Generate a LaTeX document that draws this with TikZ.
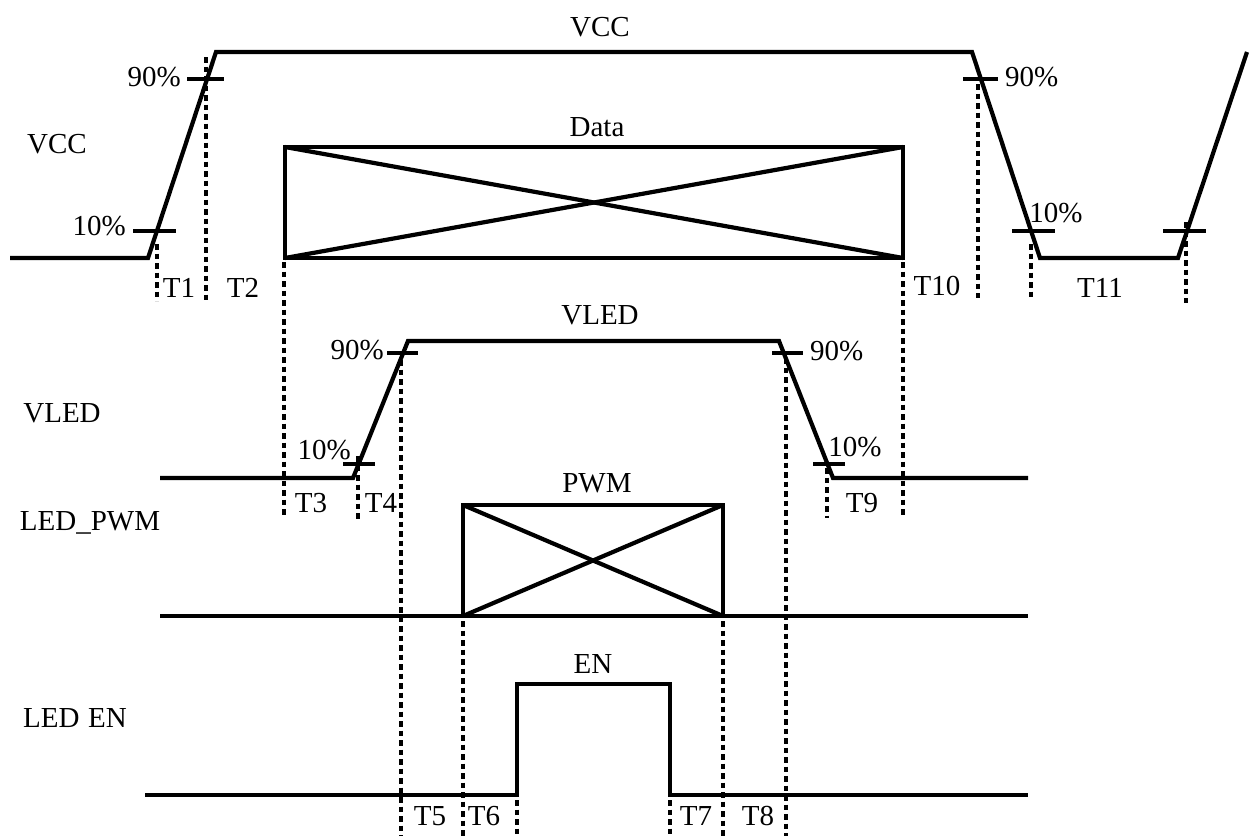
\documentclass[tikz,border=0pt]{standalone}
\usepackage{fontspec}
\setmainfont{Liberation Serif}
\begin{document}
\begin{tikzpicture}[x=1pt,y=-1pt,
  wave/.style={line width=4.2pt,line join=miter},
  tick/.style={line width=4pt},
  guide/.style={line width=3.8pt,dash pattern=on 5.5pt off 4pt},
  lbl/.style={inner sep=0pt,font=\fontsize{29}{30}\selectfont}]
\useasboundingbox (0,0) rectangle (1256,839);
% ---------- VCC row ----------
\draw[wave] (10,258) -- (148,258) -- (216,52) -- (972,52) -- (1040,258) -- (1178,258) -- (1247,52);
\draw[wave] (285,147) rectangle (903,258);
\draw[wave] (285,147) -- (903,258);
\draw[wave] (285,258) -- (903,147);
\draw[tick] (187,79) -- (224,79);
\draw[tick] (133,231) -- (176,231);
\draw[tick] (963,79) -- (998,79);
\draw[tick] (1012,231) -- (1055,231);
\draw[tick] (1163,231) -- (1206,231);
% ---------- VLED row ----------
\draw[wave] (160,478) -- (353,478) -- (408,341) -- (779,341) -- (833,478) -- (1028,478);
\draw[tick] (387,353) -- (418,353);
\draw[tick] (343,464) -- (375,464);
\draw[tick] (772,353) -- (803,353);
\draw[tick] (813,464) -- (845,464);
% ---------- LED_PWM row ----------
\draw[wave] (160,616) -- (1028,616);
\draw[wave] (463,505) rectangle (723,616);
\draw[wave] (463,505) -- (723,616);
\draw[wave] (463,616) -- (723,505);
% ---------- LED EN row ----------
\draw[wave] (145,795) -- (517,795) -- (517,684) -- (670,684) -- (670,795) -- (1028,795);
% ---------- dotted guides ----------
\coordinate (g1a) at (157,244); \coordinate (g1b) at (157,301);
\coordinate (g2a) at (206,57);  \coordinate (g2b) at (206,302);
\coordinate (g3a) at (284,262); \coordinate (g3b) at (284,518);
\coordinate (g4a) at (903,262); \coordinate (g4b) at (903,518);
\coordinate (g5a) at (978,84);  \coordinate (g5b) at (978,298);
\coordinate (g6a) at (1031,244); \coordinate (g6b) at (1031,300);
\coordinate (g7a) at (1186,222); \coordinate (g7b) at (1186,303);
\coordinate (g8a) at (358,456); \coordinate (g8b) at (358,520);
\coordinate (g9a) at (401,360); \coordinate (g9b) at (401,836);
\coordinate (g10a) at (786,358); \coordinate (g10b) at (786,836);
\coordinate (g11a) at (827,468); \coordinate (g11b) at (827,518);
\coordinate (g12a) at (463,621); \coordinate (g12b) at (463,836);
\coordinate (g13a) at (723,621); \coordinate (g13b) at (723,836);
\coordinate (g14a) at (517,800); \coordinate (g14b) at (517,836);
\coordinate (g15a) at (670,800); \coordinate (g15b) at (670,836);
\foreach \g in {1,...,15} \draw[guide] (g\g a) -- (g\g b);
% ---------- labels ----------
\node[lbl] (vcctop) at (600,27) {VCC};
\node[lbl] (vccleft) at (57,144) {VCC};
\node[lbl,anchor=east] (p90a) at (181,77) {90\%};
\node[lbl,anchor=east] (p10a) at (126,226) {10\%};
\node[lbl] (t1) at (179,288) {T1};
\node[lbl] (t2) at (243,288) {T2};
\node[lbl] (data) at (597,127) {Data};
\node[lbl,anchor=west] (p90b) at (1005,77) {90\%};
\node[lbl] (p10b) at (1056,213) {10\%};
\node[lbl] (t10) at (937,286) {T10};
\node[lbl] (t11) at (1100,288) {T11};
\node[lbl] (vledtop) at (600,315) {VLED};
\node[lbl] (vledleft) at (62,413) {VLED};
\node[lbl,anchor=east] (p90c) at (384,350) {90\%};
\node[lbl,anchor=east] (p10c) at (351,450) {10\%};
\node[lbl] (t3) at (311,503) {T3};
\node[lbl] (t4) at (381,503) {T4};
\node[lbl,anchor=west] (p90d) at (810,351) {90\%};
\node[lbl] (p10d) at (855,447) {10\%};
\node[lbl] (t9) at (862,503) {T9};
\node[lbl] (pwm) at (597,483) {PWM};
\node[lbl] (ledpwm) at (90,523) {LED\_PWM};
\node[lbl] (en) at (593,664) {EN};
\node[lbl] (leden) at (75,718) {LED\hspace{0.3em}EN};
\node[lbl] (t5) at (430,816) {T5};
\node[lbl] (t6) at (484,816) {T6};
\node[lbl] (t7) at (696,816) {T7};
\node[lbl] (t8) at (758,816) {T8};
\end{tikzpicture}
\end{document}
